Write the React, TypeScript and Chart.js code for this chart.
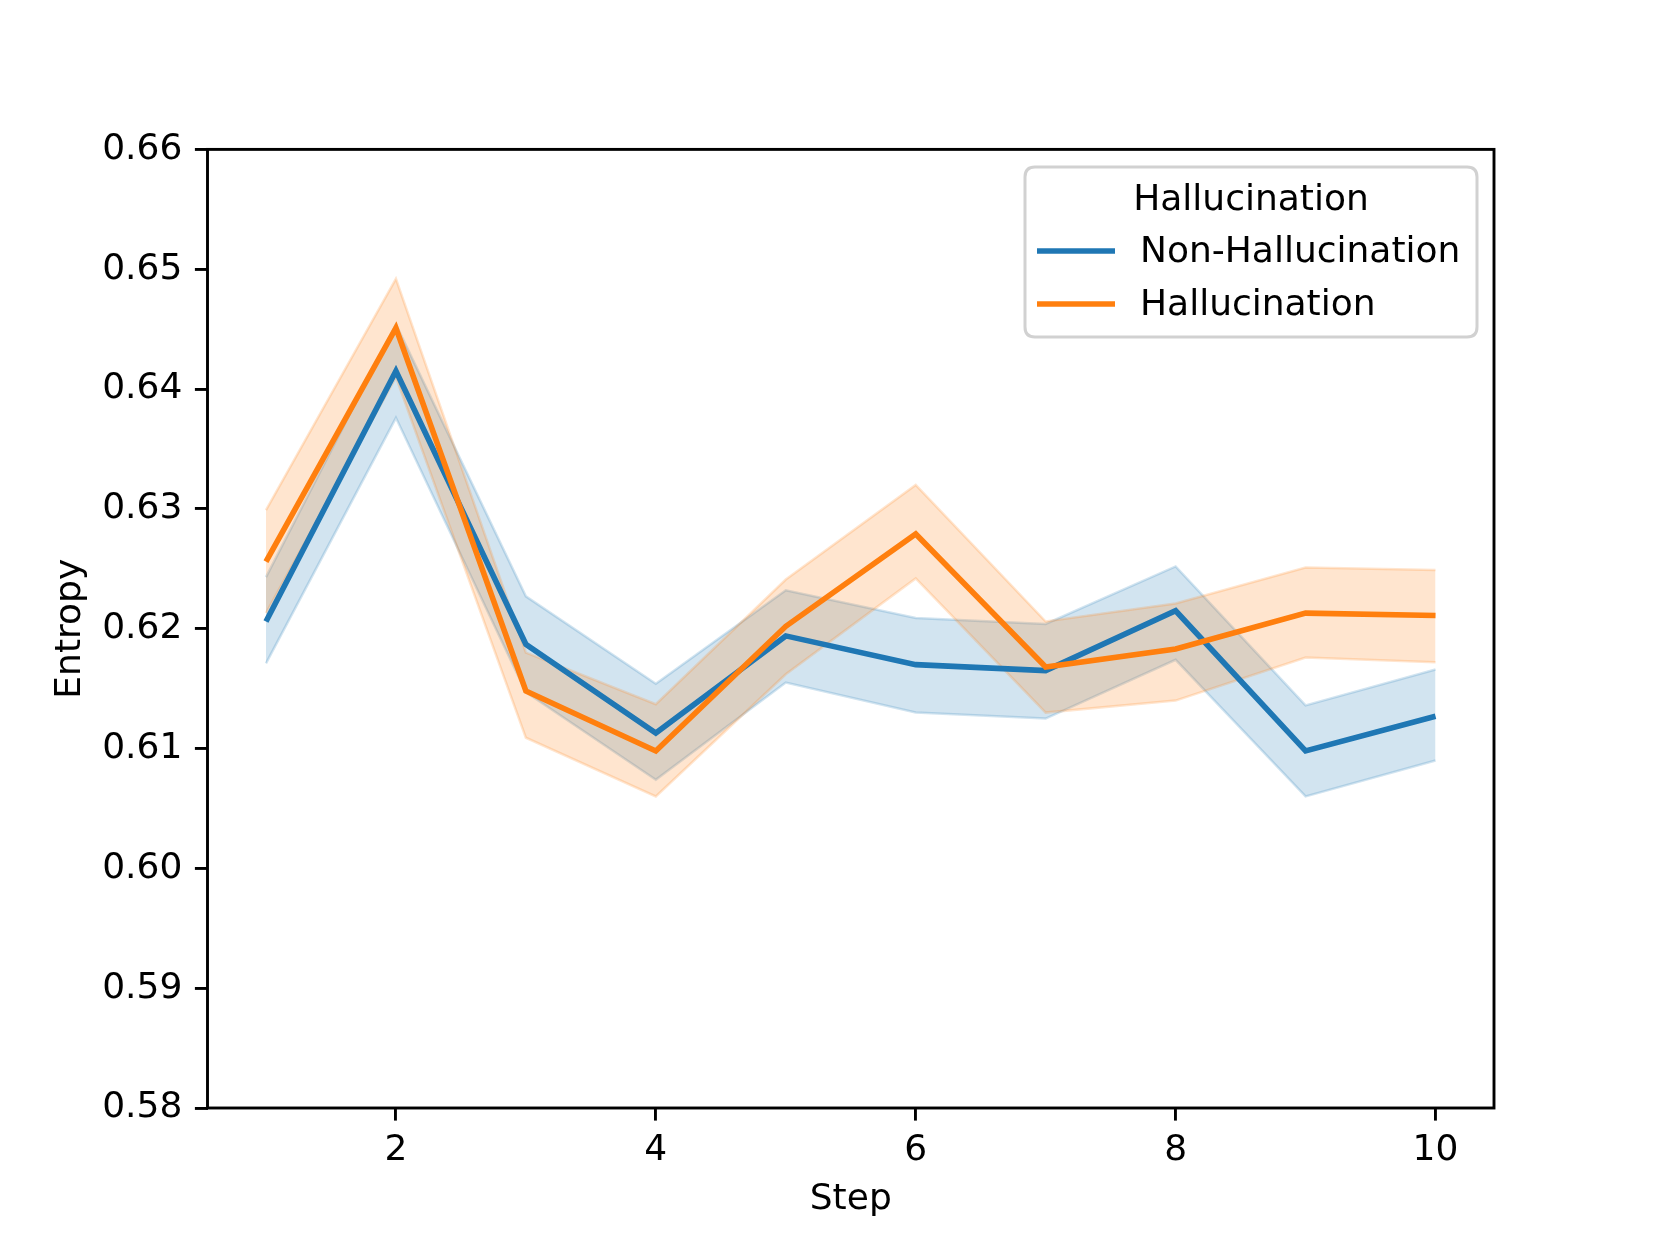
import React, { useEffect, useRef } from "react";
import { Chart, registerables } from "chart.js";

Chart.register(...registerables);

const STEPS = [1, 2, 3, 4, 5, 6, 7, 8, 9, 10];
const X_TICKS = [2, 4, 6, 8, 10];
const Y_TICKS = [0.58, 0.59, 0.6, 0.61, 0.62, 0.63, 0.64, 0.65, 0.66];

const NON_HALL_MEAN = [0.6206, 0.6415, 0.6187, 0.6113, 0.6194, 0.617, 0.6165, 0.6215, 0.6098, 0.6127];
const NON_HALL_HIGH = [0.6243, 0.6454, 0.6227, 0.6154, 0.6232, 0.6209, 0.6204, 0.6252, 0.6136, 0.6166];
const NON_HALL_LOW = [0.6171, 0.6376, 0.6147, 0.6074, 0.6155, 0.613, 0.6125, 0.6174, 0.606, 0.609];

const HALL_MEAN = [0.6256, 0.6451, 0.6148, 0.6098, 0.6202, 0.6279, 0.6168, 0.6183, 0.6213, 0.6211];
const HALL_HIGH = [0.6299, 0.6492, 0.618, 0.6137, 0.6241, 0.632, 0.6206, 0.6221, 0.6251, 0.6249];
const HALL_LOW = [0.6213, 0.641, 0.6109, 0.606, 0.6162, 0.6242, 0.613, 0.614, 0.6176, 0.6172];

const LABELS = ["Non-Hallucination", "Hallucination"];
const LEGEND_TITLE = "Hallucination";
const BLUE = "#1f77b4";
const ORANGE = "#ff7f0e";
const BLUE_FILL = "rgba(31,119,180,0.2)";
const ORANGE_FILL = "rgba(255,127,14,0.2)";

const FONT = "DejaVu Sans";
const FS = 36;

const pts = (ys: number[]) => STEPS.map((x, i) => ({ x, y: ys[i] }));

const framePlugin = {
  id: "frame",
  afterDatasetsDraw(chart: any) {
    const { ctx, chartArea: a } = chart;
    ctx.save();
    ctx.strokeStyle = "#000";
    ctx.lineWidth = 2.9;
    ctx.strokeRect(a.left, a.top, a.right - a.left, a.bottom - a.top);
    ctx.restore();
  },
};

const legendPlugin = {
  id: "customLegend",
  afterDraw(chart: any) {
    const { ctx } = chart;
    const x0 = 1025, y0 = 167, x1 = 1477, y1 = 337, r = 10;
    ctx.save();
    ctx.beginPath();
    ctx.moveTo(x0 + r, y0);
    ctx.lineTo(x1 - r, y0);
    ctx.quadraticCurveTo(x1, y0, x1, y0 + r);
    ctx.lineTo(x1, y1 - r);
    ctx.quadraticCurveTo(x1, y1, x1 - r, y1);
    ctx.lineTo(x0 + r, y1);
    ctx.quadraticCurveTo(x0, y1, x0, y1 - r);
    ctx.lineTo(x0, y0 + r);
    ctx.quadraticCurveTo(x0, y0, x0 + r, y0);
    ctx.closePath();
    ctx.fillStyle = "rgba(255,255,255,0.8)";
    ctx.fill();
    ctx.strokeStyle = "rgba(204,204,204,0.9)";
    ctx.lineWidth = 3;
    ctx.stroke();

    ctx.fillStyle = "#000";
    ctx.font = `${FS}px "${FONT}"`;
    ctx.textBaseline = "middle";
    ctx.textAlign = "center";
    ctx.fillText(LEGEND_TITLE, (x0 + x1) / 2, 201);

    const ds = chart.data.datasets;
    const rows = [251, 304];
    [0, 1].forEach((di, i) => {
      const y = rows[i];
      ctx.strokeStyle = ds[di].borderColor;
      ctx.lineWidth = 5.4;
      ctx.beginPath();
      ctx.moveTo(1037, y);
      ctx.lineTo(1115, y);
      ctx.stroke();
      ctx.fillStyle = "#000";
      ctx.textAlign = "left";
      ctx.fillText(ds[di].label, 1140, y + 2);
    });
    ctx.restore();
  },
};

export default function App() {
  const ref = useRef<HTMLCanvasElement>(null);

  useEffect(() => {
    document.body.style.margin = "0";
    const canvas = ref.current!;
    const bandLine = (col: string) => ({
      borderColor: col,
      borderWidth: 2.5,
      pointRadius: 0,
      tension: 0,
    });
    const chart = new Chart(canvas, {
      type: "line",
      data: {
        datasets: [
          { label: LABELS[0], data: pts(NON_HALL_MEAN), borderColor: BLUE, borderWidth: 5.6, pointRadius: 0, fill: false, order: 1 },
          { label: LABELS[1], data: pts(HALL_MEAN), borderColor: ORANGE, borderWidth: 5.6, pointRadius: 0, fill: false, order: 0 },
          { label: "nh_high", data: pts(NON_HALL_HIGH), ...bandLine(BLUE_FILL), backgroundColor: BLUE_FILL, fill: { target: 3 }, order: 5 },
          { label: "nh_low", data: pts(NON_HALL_LOW), ...bandLine(BLUE_FILL), fill: false, order: 5 },
          { label: "h_high", data: pts(HALL_HIGH), ...bandLine(ORANGE_FILL), backgroundColor: ORANGE_FILL, fill: { target: 5 }, order: 4 },
          { label: "h_low", data: pts(HALL_LOW), ...bandLine(ORANGE_FILL), fill: false, order: 4 },
        ] as any,
      },
      options: {
        responsive: false,
        animation: false,
        devicePixelRatio: 1,
        layout: { padding: { left: 0, right: 166, top: 149.4, bottom: 0 } },
        plugins: { legend: { display: false }, tooltip: { enabled: false } },
        scales: {
          x: {
            type: "linear",
            min: 0.55,
            max: 10.45,
            afterBuildTicks: (s: any) => { s.ticks = X_TICKS.map((v) => ({ value: v })); },
            afterFit: (s: any) => { s.height = 137; },
            border: { display: false },
            grid: { drawOnChartArea: false, drawTicks: true, tickLength: 12.6, color: "#000", lineWidth: 2.9 },
            ticks: { color: "#000", font: { family: FONT, size: FS }, padding: 8, maxRotation: 0, callback: (v: any) => String(v) },
            title: { display: true, text: "Step", color: "#000", font: { family: FONT, size: FS }, padding: { top: 4, bottom: 23.5 } },
          },
          y: {
            type: "linear",
            min: 0.58,
            max: 0.66,
            afterBuildTicks: (s: any) => { s.ticks = Y_TICKS.map((v) => ({ value: v })); },
            afterFit: (s: any) => { s.width = 207.5; },
            border: { display: false },
            grid: { drawOnChartArea: false, drawTicks: true, tickLength: 12.6, color: "#000", lineWidth: 2.9 },
            ticks: { color: "#000", font: { family: FONT, size: FS }, padding: 12.6, callback: (v: any) => Number(v).toFixed(2) },
            title: { display: true, text: "Entropy", color: "#000", font: { family: FONT, size: FS }, padding: { top: 49, bottom: 4 } },
          },
        },
      } as any,
      plugins: [framePlugin, legendPlugin],
    });
    return () => chart.destroy();
  }, []);

  return (
    <div>
      <canvas ref={ref} width={1660} height={1245} style={{ display: "block", width: 1660, height: 1245 }} />
    </div>
  );
}
